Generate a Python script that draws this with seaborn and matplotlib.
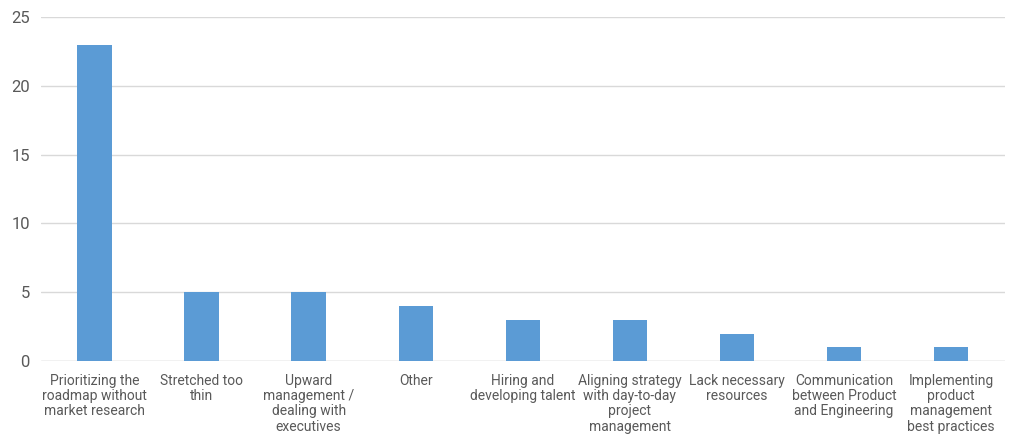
import matplotlib
matplotlib.use("Agg")
import matplotlib.pyplot as plt
import seaborn as sns
import pandas as pd

categories = [
    "Prioritizing the\nroadmap without\nmarket research",
    "Stretched too\nthin",
    "Upward\nmanagement /\ndealing with\nexecutives",
    "Other",
    "Hiring and\ndeveloping talent",
    "Aligning strategy\nwith day-to-day\nproject\nmanagement",
    "Lack necessary\nresources",
    "Communication\nbetween Product\nand Engineering",
    "Implementing\nproduct\nmanagement\nbest practices",
]
values = [23, 5, 5, 4, 3, 3, 2, 1, 1]
yticks = [0, 5, 10, 15, 20, 25]

sns.set_theme(style="white")
plt.rcParams['font.family'] = ['Roboto', 'DejaVu Sans']

df = pd.DataFrame({"cat": categories, "val": values})
fig = plt.figure(figsize=(10.24, 4.48), dpi=100)
ax = fig.add_axes([0.040, 0.194, 0.941, 0.768])
sns.barplot(data=df, x="cat", y="val", color="#5B9BD5", width=0.32,
            saturation=1, ax=ax, zorder=3, linewidth=0)
ax.set_ylim(0, 25)
ax.set_yticks(yticks)
ax.set_xlim(-0.5, len(categories) - 0.5)
ax.yaxis.grid(True, color="#d9d9d9", linewidth=1, zorder=0)
ax.set_axisbelow(True)
for s in ax.spines.values():
    s.set_visible(False)
ax.axhline(0, color="#d9d9d9", linewidth=1, zorder=1)
ax.set_xlabel("")
ax.set_ylabel("")
ax.tick_params(axis="both", length=0)
ax.tick_params(axis="y", labelsize=12, labelcolor="#595959", pad=8)
ax.tick_params(axis="x", labelsize=10, labelcolor="#595959", pad=9)
for t in ax.get_xticklabels():
    t.set_linespacing(1.12)
fig.savefig("out.png", dpi=100)
